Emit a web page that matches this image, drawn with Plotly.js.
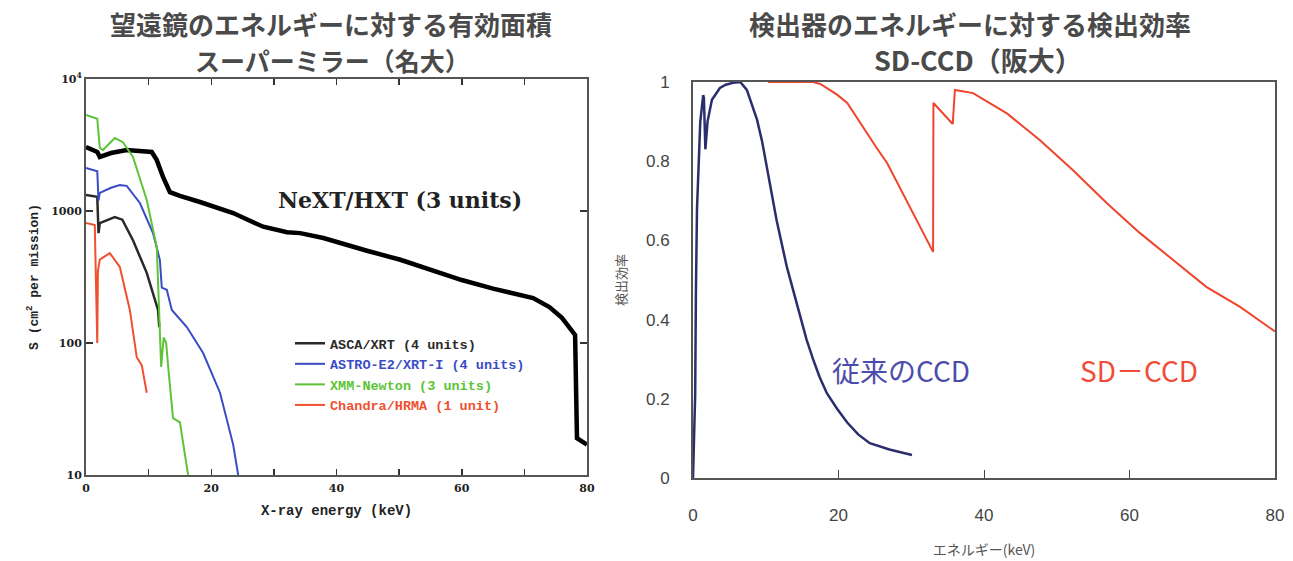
<!DOCTYPE html>
<html>
<head>
<meta charset="utf-8">
<script src="https://cdn.plot.ly/plotly-3.0.1.min.js"></script>
<style>html,body{margin:0;padding:0;background:#fff;}#chart{width:1293px;height:561px;}</style>
</head>
<body>
<div id="chart"></div>
<script>
// ---- Left chart: effective area (log scale) ----
const nextX = [0, 1.8, 2.2, 4, 6.5, 10.5, 11.3, 12.3, 13.4, 15, 18.2, 20.9, 23.5, 26, 28.3, 32.1, 34.2, 37.9, 40, 45, 50.2, 55, 60, 65, 71.4, 74, 76, 78.1, 78.4, 80];
const nextY = [3050, 2800, 2570, 2750, 2900, 2800, 2430, 1810, 1390, 1300, 1170, 1070, 965, 850, 760, 690, 680, 624, 582, 498, 427, 358, 300, 258, 219, 187, 155, 115, 19, 17];

const ascaX = [0, 1.8, 2.0, 2.2, 4.6, 5.8, 7.5, 9.7, 11.5, 11.7];
const ascaY = [1320, 1280, 680, 810, 900, 860, 600, 340, 178, 132];

const astroX = [0, 1.8, 2.0, 2.2, 4, 5.4, 6.5, 8.6, 10.7, 11.8, 12.1, 12.9, 13.7, 16.1, 18.7, 21.4, 23.5, 24.3];
const astroY = [2120, 2000, 1200, 1370, 1500, 1570, 1550, 1150, 680, 425, 263, 253, 178, 132, 84, 42, 17, 10];

const xmmX = [0, 1.8, 2.2, 2.7, 4.6, 5.9, 7.5, 9.7, 11.3, 11.8, 12.0, 12.4, 12.8, 13.2, 13.9, 15.0, 16.3];
const xmmY = [5340, 5000, 3000, 2900, 3570, 3320, 2570, 1210, 533, 132, 66, 110, 100, 60, 27, 25, 10];

const chandraX = [0, 1.4, 1.8, 1.9, 2.2, 3.8, 5.4, 7, 8.1, 8.9, 9.7];
const chandraY = [810, 783, 100, 350, 428, 480, 377, 178, 78, 68, 42];

const legendNames = ['ASCA/XRT (4 units)', 'ASTRO-E2/XRT-I (4 units)', 'XMM-Newton (3 units)', 'Chandra/HRMA (1 unit)'];
const leftYTickVals = [10, 100, 1000, 10000];
const leftYTickText = ['10', '100', '1000', '10<sup>4</sup>'];
const leftYMinorVals = [20, 30, 40, 50, 60, 70, 80, 90, 200, 300, 400, 500, 600, 700, 800, 900, 2000, 3000, 4000, 5000, 6000, 7000, 8000, 9000];
const leftXTickVals = [0, 10, 20, 30, 40, 50, 60, 70, 80];
const leftXTickText = ['0', '', '20', '', '40', '', '60', '', '80'];

// ---- Right chart: detection efficiency ----
const convX = [0, 0.3, 0.4, 0.55, 1.0, 1.4, 1.5, 1.7, 2.0, 2.6, 3.7, 4.5, 5.5, 6.5, 7.4, 8.8, 9.5, 10.2, 11.5, 12.9, 13.8, 14.7, 15.6, 16.5, 17.4, 18.4, 19.8, 21.2, 22.7, 24.3, 27, 30.1];
const convY = [0, 0.21, 0.47, 0.68, 0.90, 0.967, 0.96, 0.83, 0.90, 0.955, 0.985, 0.993, 0.998, 1.0, 0.98, 0.905, 0.85, 0.78, 0.65, 0.533, 0.47, 0.406, 0.35, 0.30, 0.255, 0.214, 0.175, 0.14, 0.11, 0.088, 0.072, 0.058];

const sdX = [10.3, 14, 16.5, 17.5, 18.4, 19.8, 21.2, 22.5, 23.9, 25.3, 26.7, 29.4, 33.0, 33.05, 35.7, 36.0, 38.5, 43.2, 47.7, 52.2, 56.9, 61.4, 66, 70.6, 75.2, 80];
const sdY = [1.0, 1.0, 1.0, 0.995, 0.985, 0.968, 0.947, 0.91, 0.87, 0.832, 0.795, 0.70, 0.571, 0.947, 0.894, 0.98, 0.972, 0.92, 0.853, 0.778, 0.694, 0.619, 0.55, 0.482, 0.432, 0.37];

const colAsca = '#2a2a2a', colAstro = '#3a4cc4', colXmm = '#5cc436', colChandra = '#f0502e';
const serif = 'DejaVu Serif, serif';
const mono = 'Liberation Mono, monospace';
const cjk = 'Noto Sans CJK JP, sans-serif';
const sans = 'Liberation Sans, Arial, sans-serif';

const traces = [
  {x: nextX, y: nextY, xaxis: 'x', yaxis: 'y', mode: 'lines', line: {color: '#000', width: 4.5}, showlegend: false},
  {x: ascaX, y: ascaY, xaxis: 'x', yaxis: 'y', mode: 'lines', line: {color: colAsca, width: 2.5},
   name: '<span style="color:' + colAsca + '">' + legendNames[0] + '</span>'},
  {x: astroX, y: astroY, xaxis: 'x', yaxis: 'y', mode: 'lines', line: {color: colAstro, width: 2},
   name: '<span style="color:' + colAstro + '">' + legendNames[1] + '</span>'},
  {x: xmmX, y: xmmY, xaxis: 'x', yaxis: 'y', mode: 'lines', line: {color: colXmm, width: 2},
   name: '<span style="color:' + colXmm + '">' + legendNames[2] + '</span>'},
  {x: chandraX, y: chandraY, xaxis: 'x', yaxis: 'y', mode: 'lines', line: {color: colChandra, width: 2},
   name: '<span style="color:' + colChandra + '">' + legendNames[3] + '</span>'},
  {x: convX, y: convY, xaxis: 'x2', yaxis: 'y2', mode: 'lines', line: {color: '#2c2d6c', width: 2.5}, showlegend: false},
  {x: sdX, y: sdY, xaxis: 'x2', yaxis: 'y2', mode: 'lines', line: {color: '#f0442c', width: 2}, showlegend: false}
];

const tickFontL = {family: serif, size: 11, weight: 'bold', color: '#222'};

const layout = {
  width: 1293, height: 561,
  margin: {l: 0, r: 0, t: 0, b: 0},
  paper_bgcolor: '#fff', plot_bgcolor: '#fff',
  showlegend: true,
  legend: {x: 290/1293, y: 1 - 328/561, xanchor: 'left', yanchor: 'top', bgcolor: 'rgba(0,0,0,0)',
    font: {family: mono, size: 13.5, weight: 'bold', color: '#222'}, tracegroupgap: 0},
  xaxis: {domain: [86/1293, 587/1293], range: [0, 80], anchor: 'y',
    showline: true, linecolor: '#555', linewidth: 2, mirror: 'allticks',
    ticks: 'inside', ticklen: 6, tickcolor: '#333', tickwidth: 1.5,
    tickvals: leftXTickVals, ticktext: leftXTickText,
    showgrid: false, zeroline: false, ticklabelstandoff: 2,
    tickfont: tickFontL,
    title: {text: 'X-ray energy (keV)', font: {family: mono, size: 14, weight: 'bold', color: '#222'}, standoff: 11}},
  yaxis: {domain: [1 - 475/561, 1 - 79/561], type: 'log', range: [1, 4], anchor: 'x',
    showline: true, linecolor: '#555', linewidth: 2, mirror: 'allticks',
    ticks: 'inside', ticklen: 7, tickcolor: '#333', tickwidth: 1.5,
    tickvals: leftYTickVals, ticktext: leftYTickText,
    showgrid: false, zeroline: false,
    tickfont: tickFontL,
    title: {text: 'S (cm<sup>2</sup> per mission)', font: {family: mono, size: 13, weight: 'bold', color: '#222'}, standoff: 10}},
  yaxis3: {overlaying: 'y', type: 'log', range: [1, 4], anchor: 'x', side: 'left',
    showline: false, mirror: 'allticks', ticks: 'inside', ticklen: 3, tickcolor: '#444', tickwidth: 1,
    tickvals: leftYMinorVals, showticklabels: false, showgrid: false, zeroline: false},
  xaxis2: {domain: [693/1293, 1275/1293], range: [0, 80], anchor: 'y2',
    showline: true, linecolor: '#555', linewidth: 2, mirror: true,
    ticks: 'inside', ticklen: 8, tickcolor: '#444', tickwidth: 1,
    dtick: 20, showgrid: false, zeroline: false, ticklabelstandoff: 21,
    tickfont: {family: sans, size: 17, color: '#444'},
    title: {text: 'エネルギー(keV)', font: {family: cjk, size: 14, color: '#555'}, standoff: 21}},
  yaxis2: {domain: [1 - 478/561, 1 - 82/561], range: [0, 1], anchor: 'x2',
    showline: true, linecolor: '#555', linewidth: 2, mirror: true,
    ticks: '', dtick: 0.2, showgrid: false, zeroline: false, ticklabelstandoff: 18,
    tickformat: '~g',
    tickfont: {family: sans, size: 17, color: '#444'},
    title: {text: '検出効率', font: {family: cjk, size: 13, color: '#555'}, standoff: 16}},
  annotations: [
    {xref: 'paper', yref: 'paper', x: 331/1293, y: 1 - 24/561, text: '望遠鏡のエネルギーに対する有効面積', showarrow: false,
     font: {family: cjk, size: 26, weight: 'bold', color: '#4a4a4a'}, xanchor: 'center', yanchor: 'middle'},
    {xref: 'paper', yref: 'paper', x: 332/1293, y: 1 - 60/561, text: 'スーパーミラー（名大）', showarrow: false,
     font: {family: cjk, size: 25, weight: 'bold', color: '#4a4a4a'}, xanchor: 'center', yanchor: 'middle'},
    {xref: 'paper', yref: 'paper', x: 970/1293, y: 1 - 24/561, text: '検出器のエネルギーに対する検出効率', showarrow: false,
     font: {family: cjk, size: 26, weight: 'bold', color: '#4a4a4a'}, xanchor: 'center', yanchor: 'middle'},
    {xref: 'paper', yref: 'paper', x: 978/1293, y: 1 - 60/561, text: 'SD-CCD（阪大）', showarrow: false,
     font: {family: cjk, size: 27, weight: 'bold', color: '#4a4a4a'}, xanchor: 'center', yanchor: 'middle'},
    {xref: 'x', yref: 'y', x: 50.2, y: 3.083, text: 'NeXT/HXT (3 units)', showarrow: false,
     font: {family: serif, size: 22, weight: 'bold', color: '#222'}, xanchor: 'center', yanchor: 'middle'},
    {xref: 'x2', yref: 'y2', x: 28.6, y: 0.273, text: '従来のCCD', showarrow: false,
     font: {family: cjk, size: 28, color: '#4c4cac'}, xanchor: 'center', yanchor: 'middle'},
    {xref: 'x2', yref: 'y2', x: 61.3, y: 0.273, text: 'SD－CCD', showarrow: false,
     font: {family: cjk, size: 28, color: '#f04c38'}, xanchor: 'center', yanchor: 'middle'}
  ]
};

Plotly.newPlot('chart', traces, layout, {displayModeBar: false, staticPlot: true});
</script>
</body>
</html>
